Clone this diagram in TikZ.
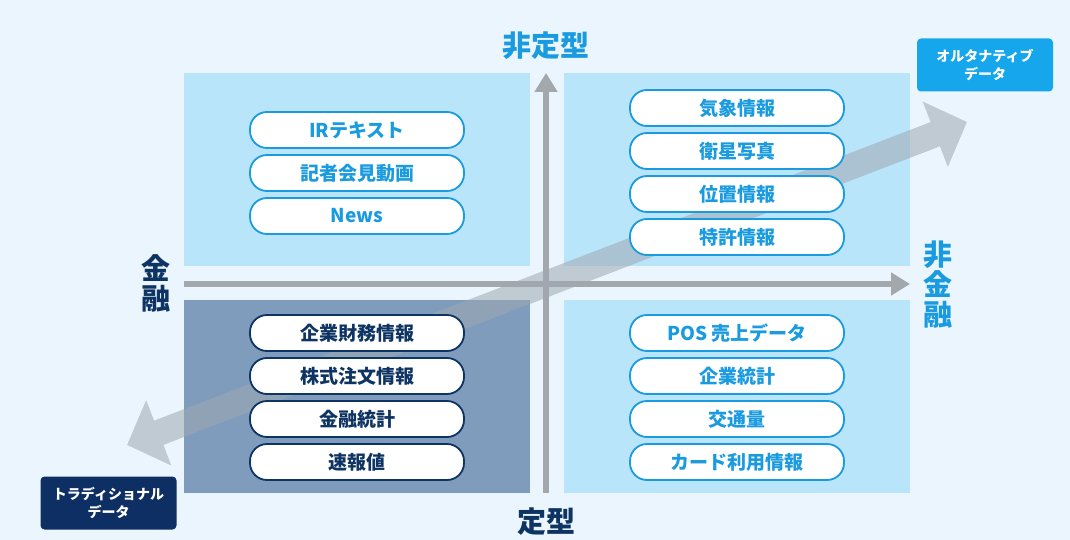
\documentclass[tikz,border=0pt]{standalone}
\usepackage{fontspec}
\newfontfamily\jpfont{Noto Sans CJK JP}
\usepackage{tikz}
\usetikzlibrary{positioning,arrows.meta}
\definecolor{bg}{HTML}{EAF5FD}
\definecolor{quadlight}{HTML}{B9E5FB}
\definecolor{quaddark}{HTML}{7F9CBD}
\definecolor{skyblue}{HTML}{1A9BE0}
\definecolor{navy}{HTML}{0E3463}
\definecolor{altblue}{HTML}{16A6EC}
\definecolor{tradnavy}{HTML}{0D2F63}
\definecolor{axisgray}{HTML}{A3A8AD}
\definecolor{flowgray}{HTML}{9EA7B0}

\begin{document}
\begin{tikzpicture}[x=1pt,y=-1pt,node distance=43pt,on grid,
  quad/.style={minimum width=346pt,minimum height=193pt,inner sep=0pt},
  pill/.style={draw=skyblue,fill=white,line width=1.8pt,rounded corners=17pt,
    minimum width=214pt,minimum height=36pt,inner sep=0pt,text=skyblue,
    font=\jpfont\bfseries\fontsize{19}{19}\selectfont},
  pilldark/.style={pill,draw=navy,text=navy},
  axis/.style={draw=axisgray,line width=5.5pt,-{Triangle[length=19pt,width=22pt]}},
  flow/.style={draw=flowgray,line width=26pt,
    {Triangle[length=34pt,width=68pt]}-{Triangle[length=34pt,width=68pt]}},
  tag/.style={text=white,rounded corners=4pt,minimum width=136pt,minimum height=53pt,
    inner sep=0pt,align=center,font=\jpfont\bfseries\fontsize{14}{18.5}\selectfont},
  big/.style={inner sep=0pt,align=center,font=\jpfont\bfseries\fontsize{29}{30}\selectfont}]
  \path[use as bounding box,fill=bg] (0,0) rectangle (1070,540);

  \node[quad,fill=quadlight] (qtl) at (357,169.5) {};
  \node[quad,fill=quadlight] (qtr) at (737,169.5) {};
  \node[quad,fill=quaddark] (qbl) at (357,396.5) {};
  \node[quad,fill=quadlight] (qbr) at (737,396.5) {};

  \coordinate (vlow) at (546,493);
  \coordinate (vtop) at (546,73);
  \coordinate (hleft) at (184,284);
  \coordinate (hright) at (910,284);
  \draw[axis] (vlow) -- (vtop);
  \draw[axis] (hleft) -- (hright);

  \coordinate (ftail) at (127,445);
  \coordinate (fhead) at (967,122);
  \begin{scope}[transparency group,opacity=0.55]
    \draw[flow] (ftail) -- (fhead);
  \end{scope}

  \node[pill] (ir) at (357,130) {IRテキスト};
  \node[pill] (kisha) [below = of ir] {記者会見動画};
  \node[pill] (news) [below = of kisha] {News};

  \node[pill] (kisho) at (737,108) {気象情報};
  \node[pill] (eisei) [below = of kisho] {衛星写真};
  \node[pill] (ichi) [below = of eisei] {位置情報};
  \node[pill] (tokkyo) [below = of ichi] {特許情報};

  \node[pilldark] (zaimu) at (357,333) {企業財務情報};
  \node[pilldark] (kabu) [below = of zaimu] {株式注文情報};
  \node[pilldark] (kintoukei) [below = of kabu] {金融統計};
  \node[pilldark] (sokuho) [below = of kintoukei] {速報値};

  \node[pill] (pos) at (737,333) {POS 売上データ};
  \node[pill] (kigyo) [below = of pos] {企業統計};
  \node[pill] (kotsu) [below = of kigyo] {交通量};
  \node[pill] (card) [below = of kotsu] {カード利用情報};

  \node[big,text=skyblue] (hiteikei) at (546,46) {非定型};
  \node[big,text=navy] (teikei) at (546,522) {定型};
  \node[big,text=navy] (kinyu) at (156,283) {金\\融};
  \node[big,text=skyblue] (hikinyu) at (938,285) {非\\金\\融};

  \node[tag,fill=altblue] (alt) at (985,65) {オルタナティブ\\データ};
  \node[tag,fill=tradnavy] (trad) at (108.5,503) {トラディショナル\\データ};
\end{tikzpicture}
\end{document}
